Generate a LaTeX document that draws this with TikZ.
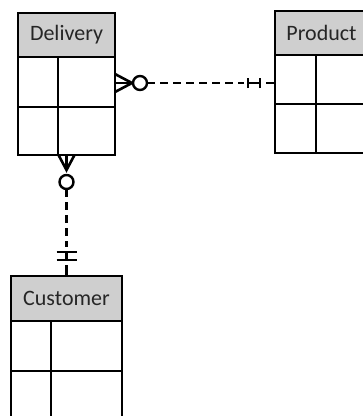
\documentclass[tikz,border=0pt]{standalone}
\usepackage{fontspec}
\setmainfont{Carlito}
\definecolor{hdrgray}{RGB}{207,207,207}
\definecolor{txtgray}{RGB}{38,38,38}
\begin{document}
\begin{tikzpicture}[x=1pt,y=-1pt]
\tikzset{
 ent/.style={draw=black, line width=1.6pt, inner sep=0pt, outer sep=0pt, anchor=north west, fill=white},
 hdr/.style={ent, fill=hdrgray, text=txtgray, font=\fontsize{22}{24}\selectfont},
 rel/.style={line width=2.6pt, line cap=butt},
 dsh/.style={rel, dash pattern=on 8pt off 5pt},
 circ/.style={circle, draw=black, line width=2.4pt, fill=white, minimum size=14pt, inner sep=0pt, outer sep=0pt}
}
\useasboundingbox (0,0) rectangle (363,416);
\clip (0,0) rectangle (363,416);
% Delivery
\node[hdr, minimum width=97pt, minimum height=44pt] (delh) at (18,13) {Delivery};
\node[ent, minimum width=40pt, minimum height=50pt] (dela1) at (18,57) {};
\node[ent, minimum width=57pt, minimum height=50pt] (delb1) at (58,57) {};
\node[ent, minimum width=40pt, minimum height=48pt] (dela2) at (18,107) {};
\node[ent, minimum width=57pt, minimum height=48pt] (delb2) at (58,107) {};
% Product
\node[hdr, minimum width=93pt, minimum height=44pt] (proh) at (275,11) {Product};
\node[ent, minimum width=41pt, minimum height=49pt] (proa1) at (275,55) {};
\node[ent, minimum width=52pt, minimum height=49pt] (prob1) at (316,55) {};
\node[ent, minimum width=41pt, minimum height=49pt] (proa2) at (275,104) {};
\node[ent, minimum width=52pt, minimum height=49pt] (prob2) at (316,104) {};
% Customer
\node[hdr, minimum width=111pt, minimum height=45pt] (cush) at (11,276) {Customer};
\node[ent, minimum width=40pt, minimum height=50pt] (cusa1) at (11,321) {};
\node[ent, minimum width=71pt, minimum height=50pt] (cusb1) at (51,321) {};
\node[ent, minimum width=40pt, minimum height=50pt] (cusa2) at (11,371) {};
\node[ent, minimum width=71pt, minimum height=50pt] (cusb2) at (51,371) {};
% Delivery -- Product
\coordinate (c1s) at ([yshift=-1pt]delb1.east);
\coordinate (c1e) at (proa1.west |- c1s);
\draw[rel] ([yshift=9pt]c1s) -- ([xshift=17pt]c1s) -- ([yshift=-9pt]c1s);
\draw[rel] (c1s) -- ([xshift=17pt]c1s);
\node[circ] (o1) at ([xshift=25pt]c1s) {};
\draw[dsh] (o1.east) -- ([xshift=-31pt]c1e);
\draw[rel] ([xshift=-27pt,yshift=-5pt]c1e) -- ([xshift=-27pt,yshift=5pt]c1e);
\draw[rel] ([xshift=-15pt,yshift=-5pt]c1e) -- ([xshift=-15pt,yshift=5pt]c1e);
\draw[rel] ([xshift=-27pt]c1e) -- ([xshift=-15pt]c1e);
\draw[rel] ([xshift=-9pt]c1e) -- (c1e);
% Delivery -- Customer
\coordinate (c2s) at (delh.center |- dela2.south);
\coordinate (c2e) at (cush.north);
\draw[rel] ([xshift=-8pt]c2s) -- ([yshift=-15pt]c2s) -- ([xshift=8pt]c2s);
\draw[rel] (c2s) -- ([yshift=-15pt]c2s);
\node[circ] (o2) at ([yshift=-27pt]c2s) {};
\draw[dsh] (o2.south) -- ([yshift=29pt]c2e);
\draw[rel] ([xshift=-10pt,yshift=24pt]c2e) -- ([xshift=10pt,yshift=24pt]c2e);
\draw[rel] ([xshift=-10pt,yshift=16pt]c2e) -- ([xshift=10pt,yshift=16pt]c2e);
\draw[rel] ([yshift=24pt]c2e) -- ([yshift=16pt]c2e);
\draw[rel] ([yshift=11pt]c2e) -- (c2e);
\end{tikzpicture}
\end{document}
